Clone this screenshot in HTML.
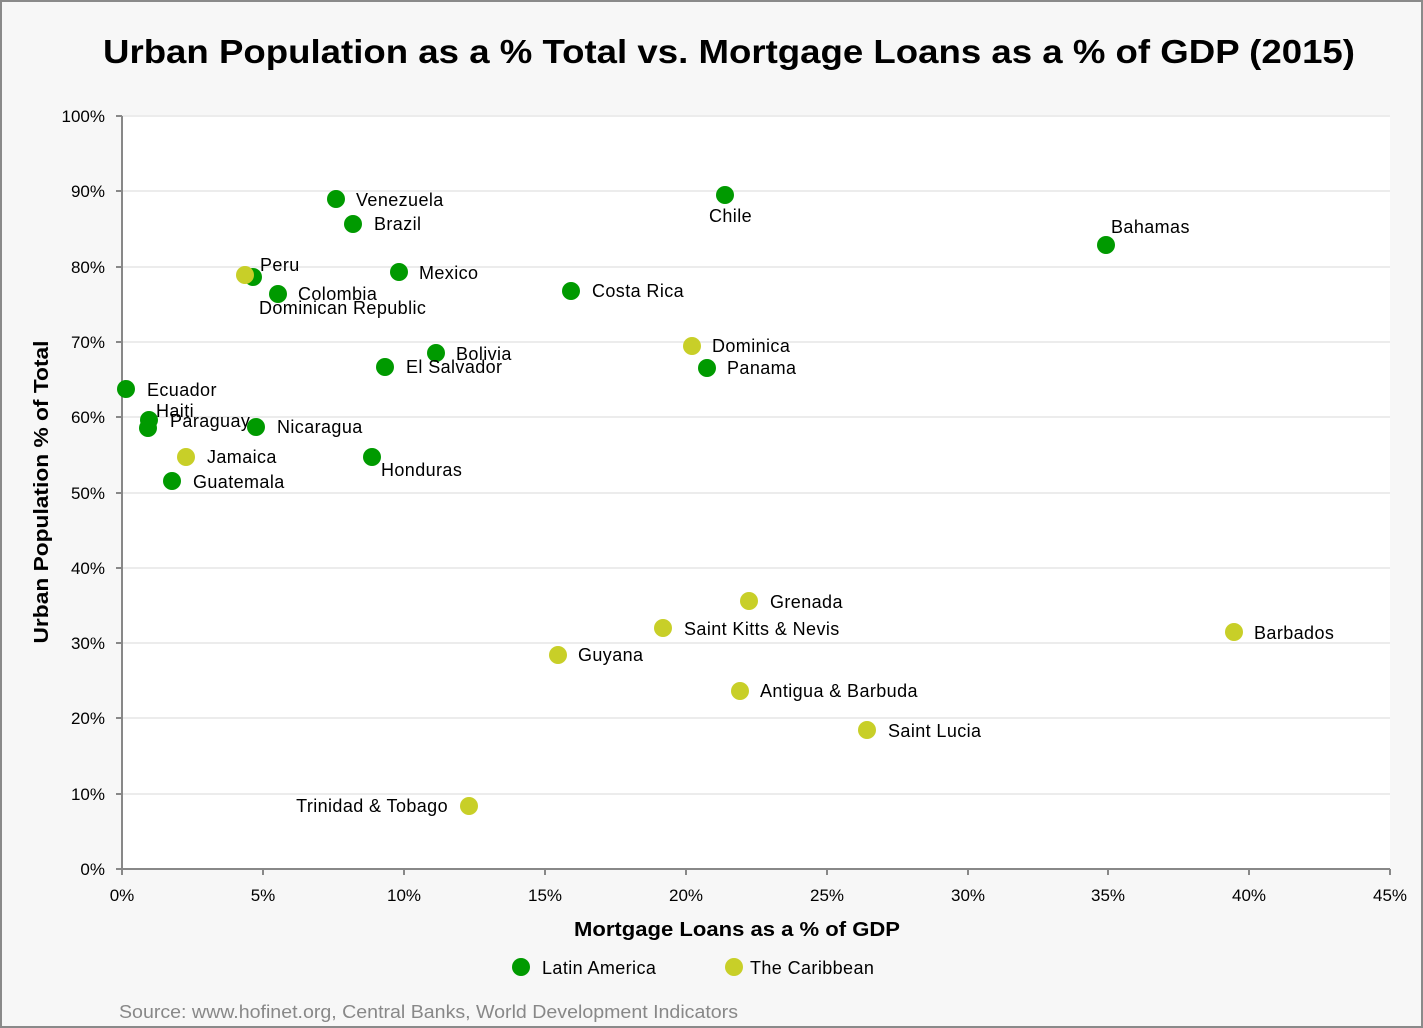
<!DOCTYPE html>
<html><head><meta charset="utf-8"><style>
html,body{margin:0;padding:0;background:#f7f7f7}
svg{display:block}
text{font-family:"Liberation Sans",sans-serif}
</style></head><body>
<svg width="1423" height="1028" viewBox="0 0 1423 1028" xmlns="http://www.w3.org/2000/svg">
<rect x="1" y="1" width="1421" height="1026" fill="#f7f7f7" stroke="#8a8a8a" stroke-width="2"/>
<text x="729" y="63" text-anchor="middle" font-size="33" font-weight="bold" fill="#000" textLength="1252" lengthAdjust="spacingAndGlyphs">Urban Population as a % Total vs. Mortgage Loans as a % of GDP (2015)</text>
<rect x="122" y="116" width="1268" height="753" fill="#fff"/>
<g stroke="#ececec" stroke-width="2">
<line x1="122" y1="116" x2="1390" y2="116"/><line x1="122" y1="191" x2="1390" y2="191"/>
<line x1="122" y1="267" x2="1390" y2="267"/><line x1="122" y1="342" x2="1390" y2="342"/>
<line x1="122" y1="417" x2="1390" y2="417"/><line x1="122" y1="493" x2="1390" y2="493"/>
<line x1="122" y1="568" x2="1390" y2="568"/><line x1="122" y1="643" x2="1390" y2="643"/>
<line x1="122" y1="718" x2="1390" y2="718"/><line x1="122" y1="794" x2="1390" y2="794"/>
</g>
<g stroke="#888" stroke-width="2" fill="none">
<line x1="122" y1="116" x2="122" y2="870"/><line x1="121" y1="869" x2="1390" y2="869"/>
<path d="M116 116h6M116 191h6M116 267h6M116 342h6M116 417h6M116 493h6M116 568h6M116 643h6M116 718h6M116 794h6M116 869h6"/>
<path d="M122 869v6M263 869v6M404 869v6M545 869v6M686 869v6M827 869v6M968 869v6M1108 869v6M1249 869v6M1390 869v6"/>
</g>
<g font-size="17" fill="#000" text-anchor="end">
<text x="105" y="122">100%</text><text x="105" y="197">90%</text><text x="105" y="273">80%</text>
<text x="105" y="348">70%</text><text x="105" y="423">60%</text><text x="105" y="499">50%</text>
<text x="105" y="574">40%</text><text x="105" y="649">30%</text><text x="105" y="724">20%</text>
<text x="105" y="800">10%</text><text x="105" y="875">0%</text>
</g>
<g font-size="17" fill="#000" text-anchor="middle">
<text x="122" y="901">0%</text><text x="263" y="901">5%</text><text x="404" y="901">10%</text>
<text x="545" y="901">15%</text><text x="686" y="901">20%</text><text x="827" y="901">25%</text>
<text x="968" y="901">30%</text><text x="1108" y="901">35%</text><text x="1249" y="901">40%</text>
<text x="1390" y="901">45%</text>
</g>
<text x="737" y="936" text-anchor="middle" font-size="20" font-weight="bold" textLength="326" lengthAdjust="spacingAndGlyphs">Mortgage Loans as a % of GDP</text>
<text transform="translate(48,492) rotate(-90)" text-anchor="middle" font-size="20" font-weight="bold" textLength="303" lengthAdjust="spacingAndGlyphs">Urban Population % of Total</text>
<g fill="#009a00">
<circle cx="336" cy="199" r="9"/><circle cx="353" cy="224" r="9"/><circle cx="725" cy="195" r="9"/>
<circle cx="1106" cy="245" r="9"/><circle cx="399" cy="272" r="9"/><circle cx="278" cy="294" r="9"/>
<circle cx="253" cy="277" r="9"/><circle cx="571" cy="291" r="9"/><circle cx="436" cy="353" r="9"/>
<circle cx="385" cy="367" r="9"/><circle cx="707" cy="368" r="9"/><circle cx="126" cy="389" r="9"/>
<circle cx="149" cy="420" r="9"/><circle cx="148" cy="428" r="9"/><circle cx="256" cy="427" r="9"/>
<circle cx="372" cy="457" r="9"/><circle cx="172" cy="481" r="9"/>
</g>
<g fill="#c8cf28">
<circle cx="245" cy="275" r="9"/><circle cx="692" cy="346" r="9"/><circle cx="186" cy="457" r="9"/>
<circle cx="749" cy="601" r="9"/><circle cx="663" cy="628" r="9"/><circle cx="1234" cy="632" r="9"/>
<circle cx="558" cy="655" r="9"/><circle cx="740" cy="691" r="9"/><circle cx="867" cy="730" r="9"/>
<circle cx="469" cy="806" r="9"/>
</g>
<g font-size="18" fill="#000" letter-spacing="0.4">
<text x="356" y="206">Venezuela</text><text x="374" y="230">Brazil</text><text x="709" y="222">Chile</text>
<text x="1111" y="233">Bahamas</text><text x="419" y="279">Mexico</text><text x="298" y="300">Colombia</text>
<text x="260" y="271">Peru</text><text x="259" y="314">Dominican Republic</text><text x="592" y="297">Costa Rica</text>
<text x="456" y="360">Bolivia</text><text x="406" y="373">El Salvador</text><text x="727" y="374">Panama</text>
<text x="147" y="396">Ecuador</text><text x="156" y="417">Haiti</text><text x="170" y="427">Paraguay</text>
<text x="277" y="433">Nicaragua</text><text x="381" y="476">Honduras</text><text x="193" y="488">Guatemala</text>
<text x="712" y="352">Dominica</text><text x="207" y="463">Jamaica</text><text x="770" y="608">Grenada</text>
<text x="684" y="635">Saint Kitts &amp; Nevis</text><text x="1254" y="639">Barbados</text><text x="578" y="661">Guyana</text>
<text x="760" y="697">Antigua &amp; Barbuda</text><text x="888" y="737">Saint Lucia</text>
<text x="448" y="812" text-anchor="end">Trinidad &amp; Tobago</text>
</g>
<circle cx="521" cy="967" r="9" fill="#009a00"/><text x="542" y="974" font-size="18" letter-spacing="0.4">Latin America</text>
<circle cx="734" cy="967" r="9" fill="#c8cf28"/><text x="750" y="974" font-size="18" letter-spacing="0.4">The Caribbean</text>
<text x="119" y="1018" font-size="18" fill="#888" textLength="619" lengthAdjust="spacingAndGlyphs">Source: www.hofinet.org, Central Banks, World Development Indicators</text>
</svg>
</body></html>
